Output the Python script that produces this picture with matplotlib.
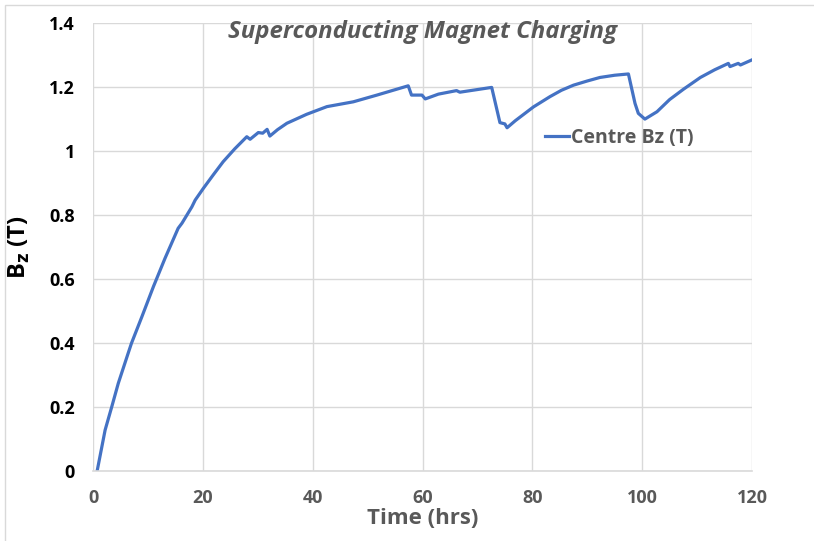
import matplotlib.pyplot as plt
from matplotlib.patches import Rectangle

# values
time_hrs = [0.78, 2.2, 3.4, 4.6, 6.4, 7.0, 8.9, 11.0, 13.1, 15.5, 16.2, 18.0, 18.6,
            20.1, 21.9, 23.7, 25.8, 28.0, 28.6, 30.1, 30.9, 31.7, 32.2, 33.6, 35.3,
            38.9, 42.6, 47.4, 51.7, 57.4, 58.0, 59.9, 60.5, 62.9, 66.2, 66.8, 72.6,
            74.1, 75.0, 75.4, 76.9, 80.2, 83.2, 85.3, 87.5, 90.0, 92.3, 95.0, 97.5,
            98.7, 99.3, 100.5, 102.7, 105.0, 107.5, 110.6, 113.2, 115.7, 116.0,
            117.5, 117.9, 120.0]
bz = [0.003, 0.128, 0.20, 0.274, 0.368, 0.399, 0.482, 0.576, 0.664, 0.758, 0.774,
      0.825, 0.846, 0.883, 0.925, 0.966, 1.006, 1.044, 1.036, 1.057, 1.055, 1.067,
      1.046, 1.066, 1.086, 1.114, 1.138, 1.153, 1.174, 1.203, 1.174, 1.174, 1.162,
      1.177, 1.188, 1.183, 1.198, 1.088, 1.084, 1.072, 1.094, 1.137, 1.169, 1.189,
      1.205, 1.218, 1.229, 1.236, 1.240, 1.148, 1.117, 1.099, 1.122, 1.16, 1.192,
      1.229, 1.253, 1.273, 1.263, 1.273, 1.268, 1.284]

x_ticks = [0, 20, 40, 60, 80, 100, 120]
y_ticks = [0, 0.2, 0.4, 0.6, 0.8, 1.0, 1.2, 1.4]
y_tick_labels = ["0", "0.2", "0.4", "0.6", "0.8", "1", "1.2", "1.4"]

plt.rcParams['font.family'] = ['Open Sans', 'DejaVu Sans']

fig = plt.figure(figsize=(8.14, 5.41), dpi=100)
ax = fig.add_axes([0.1143, 0.1294, 0.8095, 0.8286])

# chart border like the spreadsheet frame
fig.patches.append(Rectangle((0.006, -0.01), 1.2, 1.0, transform=fig.transFigure,
                             fill=False, edgecolor='#d9d9d9', linewidth=1))

ax.plot(time_hrs, bz, color='#4472C4', linewidth=2.3, label='Centre Bz (T)')

ax.set_xlim(0, 120)
ax.set_ylim(0, 1.4)
ax.set_xticks(x_ticks)
ax.set_yticks(y_ticks)
ax.set_yticklabels(y_tick_labels)
ax.grid(True, color='#d9d9d9', linewidth=1)
ax.set_axisbelow(True)
for s in ['top', 'right', 'left']:
    ax.spines[s].set_visible(False)
ax.spines['bottom'].set_color('#d9d9d9')
ax.spines['bottom'].set_linewidth(1.2)
ax.tick_params(length=0)
ax.tick_params(axis='x', colors='#595959', labelsize=13, pad=13)
ax.tick_params(axis='y', colors='black', labelsize=13, pad=13)
for lab in ax.get_xticklabels() + ax.get_yticklabels():
    lab.set_fontweight('bold')

ax.set_xlabel('Time (hrs)', fontsize=16, fontweight='bold', color='#595959', labelpad=1)
ax.set_ylabel('B$_\\mathbf{z}$ (T)', fontsize=17, fontweight='bold', color='black', labelpad=12)

ax.text(0.5, 1.005, 'Superconducting Magnet Charging', transform=ax.transAxes,
        ha='center', va='top', fontsize=17.3, fontweight='bold', style='italic', color='#595959')

leg = ax.legend(loc='upper left', bbox_to_anchor=(0.66, 0.805), frameon=False, fontsize=14,
                handlelength=1.2, handletextpad=0.1)
for t in leg.get_texts():
    t.set_color('#595959')
    t.set_fontweight('bold')

plt.savefig('out.png', dpi=100)
